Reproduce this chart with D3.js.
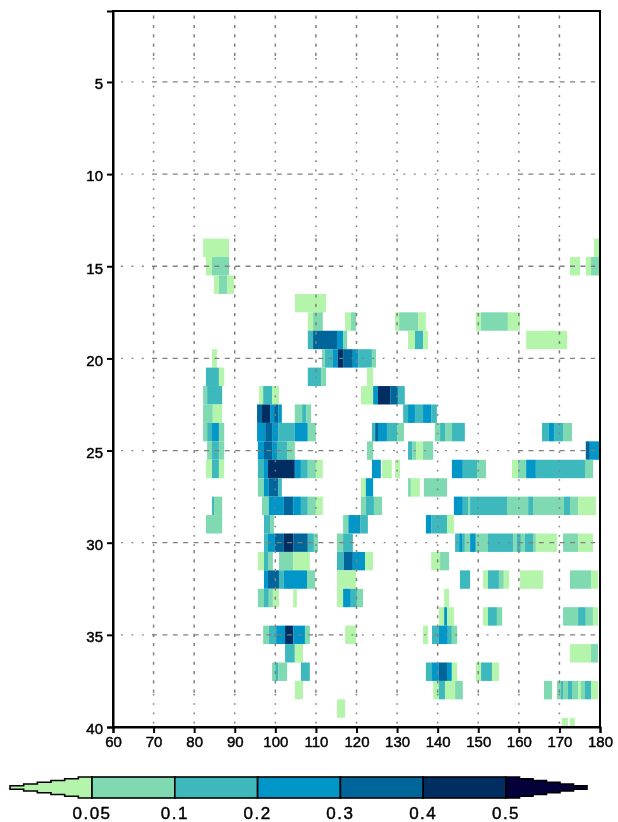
<!DOCTYPE html>
<html>
<head>
<meta charset="utf-8">
<script src="https://cdn.jsdelivr.net/npm/d3@7"></script>
<style>
	html,body{margin:0;padding:0;background:#fff}
	svg{display:block}
	text{font-family:"Liberation Sans",sans-serif;fill:#000;stroke:#000;stroke-width:.45px}
</style>
</head>
<body>
<div id="chart"></div>
<script>
// [lon start, lon end, value], one array per row
var lat14=[[82.2,88.6,.03],[178.5,180,.03]]
var lat15=[[82.9,84.4,.03],[84.4,88.6,.07],[172.6,175.1,.03],[176.5,177.8,.03],[177.8,180,.07]]
var lat16=[[84.9,86.1,.03],[86.1,88.1,.07],[88.1,89.8,.03]]
var lat17=[[104.8,112.5,.03]]
var lat18=[[108,109.3,.03],[109.3,111.7,.07],[117.2,118.6,.03],[118.6,119.9,.07],[129.5,130.5,.03],[130.5,135.2,.07],[135.2,137.1,.03],[149.4,150.7,.03],[150.7,157.3,.07],[157.3,160.3,.03]]
var lat19=[[108,109.3,.15],[109.3,115.2,.35],[115.2,116.7,.25],[116.7,117.7,.07],[132.7,134.4,.03],[134.4,136.4,.15],[136.4,137.6,.03],[161.8,171.9,.03]]
var lat20=[[84.4,85.6,.03],[111.5,112.2,.07],[112.2,114.2,.15],[114.2,115.4,.25],[115.4,116.7,.45],[116.7,119.1,.35],[119.1,120.4,.25],[120.4,123.8,.15],[123.8,124.8,.07]]
var lat21=[[82.9,86.1,.15],[86.1,87.4,.03],[108,111.3,.15],[111.3,112.5,.07],[122.6,124.1,.03]]
var lat22=[[82.2,83.2,.07],[83.2,86.9,.15],[96,97,.03],[97,99.2,.15],[99.2,100.9,.03],[121.1,124.1,.03],[124.1,125.3,.25],[125.3,128.3,.45],[128.3,130.2,.35],[130.2,131.9,.15]]
var lat23=[[82.2,84.6,.07],[84.6,86.9,.03],[95.5,96.7,.35],[96.7,98.7,.45],[98.7,99.7,.25],[99.7,100.7,.35],[100.7,101.6,.25],[104.8,106.6,.07],[106.6,107.6,.15],[107.6,108.8,.07],[131.5,132.7,.15],[132.7,134.4,.25],[134.4,136.4,.15],[136.4,138.4,.25],[138.4,139.8,.15]]
var lat24=[[82.2,83.2,.07],[83.2,84.4,.15],[84.4,86.1,.25],[86.1,87.4,.07],[95.5,97.5,.25],[97.5,99.2,.35],[99.2,100.7,.25],[100.7,104.8,.15],[104.8,108,.25],[108,110,.07],[123.8,124.6,.15],[124.6,125.3,.35],[125.3,127.5,.25],[127.5,130,.15],[130,131.7,.07],[139.3,140.6,.07],[140.6,141.8,.15],[141.8,143.5,.07],[143.5,146.7,.15],[165.7,167.4,.15],[167.4,168.7,.25],[168.7,170.9,.15],[170.9,173.1,.07]]
var lat25=[[83.2,84.4,.07],[84.4,86.1,.15],[86.1,87.4,.07],[95.7,97.2,.25],[97.2,99.2,.35],[99.2,100.4,.25],[100.4,102.9,.15],[102.9,104.8,.07],[122.6,124.1,.07],[132.7,133.7,.15],[133.7,134.7,.07],[134.7,136.4,.03],[136.4,138.9,.07],[176.5,177.5,.35],[177.5,180,.25]]
var lat26=[[82.9,84.4,.03],[84.4,86.1,.15],[86.1,87.4,.03],[95.7,97.2,.15],[97.2,98.2,.25],[98.2,104.8,.45],[104.8,106.3,.25],[106.3,108,.15],[108,110,.07],[110,111.7,.03],[123.8,126,.25],[126.3,128.7,.03],[129.5,130.7,.03],[143.5,146.2,.25],[146.2,149.7,.15],[149.7,151.9,.07],[158.3,159.8,.03],[159.8,161.8,.07],[161.8,164.2,.25],[164.2,176.3,.15],[176.3,178.3,.07]]
var lat27=[[95.7,97.2,.07],[97.2,98.4,.25],[98.4,100.7,.35],[100.7,101.6,.15],[121.1,122.3,.03],[122.3,124.1,.25],[132.7,133.4,.07],[133.4,135.6,.03],[136.6,142.3,.07]]
var lat28=[[84.4,84.9,.15],[84.9,86.9,.07],[96.7,98.4,.07],[98.4,102.1,.25],[102.1,104.4,.35],[104.4,106.3,.25],[106.3,108,.15],[108,110,.07],[110,111.7,.03],[121.1,122.3,.07],[122.3,124.3,.15],[124.3,126.3,.07],[144,146.2,.25],[146.2,147.5,.15],[147.5,148,.07],[148,157.1,.15],[157.1,162.3,.07],[162.3,163.5,.15],[163.5,171.1,.07],[171.1,172.6,.15],[172.6,174.6,.07],[174.6,179,.03]]
var lat29=[[82.9,86.9,.07],[97.2,98.7,.15],[98.7,99.7,.07],[116.7,118,.07],[118,120.9,.25],[120.9,122.8,.15],[137.1,138.4,.25],[138.4,142.3,.15],[142.3,144,.03]]
var lat30=[[97.2,98.2,.15],[98.2,99.9,.25],[99.9,102.1,.35],[102.1,104.4,.45],[104.4,108,.35],[108,109.5,.15],[109.5,110.5,.07],[115.2,116.7,.07],[116.7,119.1,.15],[144.3,145.3,.15],[145.3,146,.25],[146,146.7,.15],[146.7,148,.07],[148,149.4,.25],[149.4,152.4,.07],[152.4,158.6,.15],[158.6,159.5,.07],[159.5,160.5,.15],[160.5,161.5,.07],[161.5,163.5,.15],[163.5,164.2,.07],[164.2,169.4,.03],[170.9,174.6,.07],[174.6,178.3,.03]]
var lat31=[[95.7,97.2,.03],[97.2,98.2,.15],[98.2,99.4,.07],[100.9,104.4,.07],[104.4,108.5,.03],[115.2,116.9,.15],[116.9,119.1,.35],[119.1,122.1,.25],[122.1,124.1,.03],[138.4,140.6,.03],[140.6,142.8,.07]]
var lat32=[[97.2,98.2,.25],[98.2,100.9,.35],[100.9,102.1,.15],[102.1,107.8,.25],[107.8,109.8,.07],[115.2,119.9,.03],[145.5,148,.15],[151.2,152.4,.03],[152.4,155.1,.15],[155.1,156.3,.07],[156.3,157.6,.03],[160.3,166,.03],[172.6,177.8,.07],[177.8,179.5,.03]]
var lat33=[[95.7,97.2,.07],[97.2,98.4,.15],[98.4,99.4,.07],[99.4,100.9,.03],[104.4,105.3,.03],[115.2,116.7,.03],[116.7,118.6,.25],[118.6,120.1,.15],[120.1,121.6,.07],[141.6,142.8,.03]]
var lat34=[[140.3,141.6,.03],[141.6,142.3,.25],[142.3,144,.03],[151.2,152.4,.03],[152.4,154.6,.15],[154.6,155.9,.07],[170.9,174.6,.07],[174.6,176.5,.15],[176.5,178.3,.07],[178.3,179.5,.03]]
var lat35=[[97,98.4,.07],[98.4,100.2,.15],[100.2,102.4,.25],[102.4,104.4,.45],[104.4,107.3,.25],[107.3,108.5,.07],[117.2,119.9,.03],[136.4,137.6,.03],[138.6,140.3,.15],[140.3,142.5,.25],[142.5,143.5,.15],[143.5,144.8,.07]]
var lat36=[[102.4,104.8,.15],[104.8,106.8,.03],[172.6,177.8,.03],[177.8,179.5,.07]]
var lat37=[[99.2,100,.07],[100,100.7,.15],[100.7,102.9,.07],[106.3,108.5,.15],[137.1,138.6,.15],[138.6,140.3,.25],[140.3,142.3,.35],[142.3,143.5,.25],[143.5,144.8,.03],[149.4,150.7,.03],[150.7,153.4,.15],[153.4,155.1,.03]]
var lat38=[[104.8,106.8,.03],[138.9,140.3,.03],[140.3,141.8,.15],[141.8,144.3,.03],[144.3,146.2,.07],[166.2,168.2,.07],[169.4,170.4,.07],[170.4,170.9,.15],[170.9,172.1,.07],[172.1,173.1,.15],[173.1,174.6,.07],[174.6,175.3,.03],[175.3,176.3,.07],[176.3,177.8,.15],[177.8,179.5,.03]]
var lat39=[[115.2,117.2,.03]]
var lat40=[[170.6,172.1,.03],[172.6,173.8,.03]]

var rowLats=[14,15,16,17,18,19,20,21,22,23,24,25,26,27,28,29,30,31,32,33,34,35,36,37,38,39,40]
var rowCells=[lat14,lat15,lat16,lat17,lat18,lat19,lat20,lat21,lat22,lat23,lat24,lat25,lat26,lat27,lat28,lat29,lat30,lat31,lat32,lat33,lat34,lat35,lat36,lat37,lat38,lat39,lat40]

var xTicks=[60,70,80,90,100,110,120,130,140,150,160,170,180]
var yTicks=[5,10,15,20,25,30,35,40]
var levels=[0.05,0.1,0.2,0.3,0.4,0.5]
var levelLabels=["0.05","0.1","0.2","0.3","0.4","0.5"]
var colors=["#b5f5ab","#7fd9b1","#3db8bd","#0096c7","#00659a","#002d62","#04003a"]

// the grid line pattern changes along each line: [from, to, dashed?]
var vGridParts=[[1.4,3.7,1],[3.7,13.5,0],[13.5,21,1],[21,30.4,0],[30.4,38.2,1],[38.2,40,0]]
var hGridParts=[[62,69.6,0],[69.6,116.2,1],[116.2,159.8,0],[159.8,178.8,1]]

var W=618,H=822
var left=113,right=600,top_=11,bottom=727

var svg=d3.select("#chart").append("svg").attr("width",W).attr("height",H)
	.style("filter","blur(0.7px)")

var x=d3.scaleLinear().domain([60,180]).range([left,right])
var y=d3.scaleLinear().domain([1.15,40]).range([top_,bottom])
var color=d3.scaleThreshold().domain(levels).range(colors)

// clip so the half row at 40 stops on the axis
svg.append("clipPath").attr("id","plotClip").append("rect")
	.attr("x",left).attr("y",top_).attr("width",right-left).attr("height",bottom-top_)

var cellG=svg.append("g").attr("clip-path","url(#plotClip)")
rowLats.forEach(function(lat,i){
	cellG.selectAll("rect.r"+lat)
		.data(rowCells[i])
		.enter()
		.append("rect")
		.attr("class","r"+lat)
		.attr("x",function(d){return x(d[0])})
		.attr("width",function(d){return x(d[1])-x(d[0])})
		.attr("y",y(lat-0.5))
		.attr("height",y(lat+0.5)-y(lat-0.5))
		.attr("fill",function(d){return color(d[2])})
})

// grid goes over the shading
var gridG=svg.append("g").attr("stroke","#808080").attr("fill","none")
xTicks.slice(1,-1).forEach(function(t){
	vGridParts.forEach(function(p){
		gridG.append("line").attr("x1",x(t)).attr("x2",x(t))
			.attr("y1",y(p[0])).attr("y2",y(p[1]))
			.attr("stroke-width",1.5)
			.attr("stroke-dasharray",p[2]?"3.2 6.1":"1.7 7.6")
	})
})
yTicks.slice(0,-1).forEach(function(t){
	hGridParts.forEach(function(p,i){
		// the 30 line keeps its dashes a little further along
		var from=p[0],to=p[1]
		if(t==30&&i==1)to=119
		if(t==30&&i==2)from=119
		gridG.append("line").attr("x1",x(from)).attr("x2",x(to))
			.attr("y1",y(t)).attr("y2",y(t))
			.attr("stroke-width",1.3)
			.attr("stroke-dasharray",p[2]?"5 5.4":"1.8 8.6")
	})
})

var xAxis=d3.axisBottom(x).tickValues(xTicks).tickSize(6).tickPadding(3).tickFormat(d3.format("d"))
var yAxis=d3.axisLeft(y).tickValues(yTicks).tickSize(6).tickPadding(4).tickFormat(d3.format("d"))

var gx=svg.append("g").attr("transform","translate(0,"+bottom+")").call(xAxis)
var gy=svg.append("g").attr("transform","translate("+left+",0)").call(yAxis)
gx.selectAll("path,line").attr("stroke","#000").attr("stroke-width",2)
gy.selectAll("path,line").attr("stroke","#000").attr("stroke-width",2)
svg.selectAll(".tick text").attr("font-size",15).attr("font-family","Liberation Sans")
gy.selectAll(".tick text").attr("dy","0.45em")

svg.append("rect").attr("x",left).attr("y",top_).attr("width",right-left).attr("height",bottom-top_)
	.attr("fill","none").attr("stroke","#000").attr("stroke-width",2)

// colour bar, the end pieces are stepped like the low resolution original
var barX=d3.scalePoint().domain(levels).range([92,506])
var barTop=777,barBot=798,barMid=787.5,tipL=10,tipR=587,steps=6
function stairs(xTip,xBase){
	var half=(barBot-barTop)/2,up="",down=""
	d3.range(steps).forEach(function(i){
		var xa=xTip+(xBase-xTip)*i/steps,xb=xTip+(xBase-xTip)*(i+1)/steps
		var h=Math.max(1,half*(i+1)/steps)
		up+="L"+xa+","+(barMid-h)+"L"+xb+","+(barMid-h)
		down="L"+xb+","+(barMid+h)+"L"+xa+","+(barMid+h)+down
	})
	return "M"+xTip+","+barMid+up+down+"Z"
}
var barG=svg.append("g").attr("stroke","#000").attr("stroke-width",1.6)
barG.append("path").attr("d",stairs(tipL,barX(levels[0]))).attr("fill",colors[0])
barG.selectAll("rect").data(levels.slice(0,-1)).enter().append("rect")
	.attr("x",function(d){return barX(d)})
	.attr("width",function(d,i){return barX(levels[i+1])-barX(d)})
	.attr("y",barTop).attr("height",barBot-barTop)
	.attr("fill",function(d,i){return colors[i+1]})
barG.append("path").attr("d",stairs(tipR,barX(levels[5]))).attr("fill",colors[6])

svg.selectAll("text.barLabel").data(levels).enter().append("text")
	.attr("class","barLabel")
	.attr("x",function(d){return barX(d)})
	.attr("y",819)
	.attr("text-anchor","middle")
	.attr("font-size",17)
	.attr("letter-spacing",1.5)
	.text(function(d,i){return levelLabels[i]})
</script>
</body>
</html>
